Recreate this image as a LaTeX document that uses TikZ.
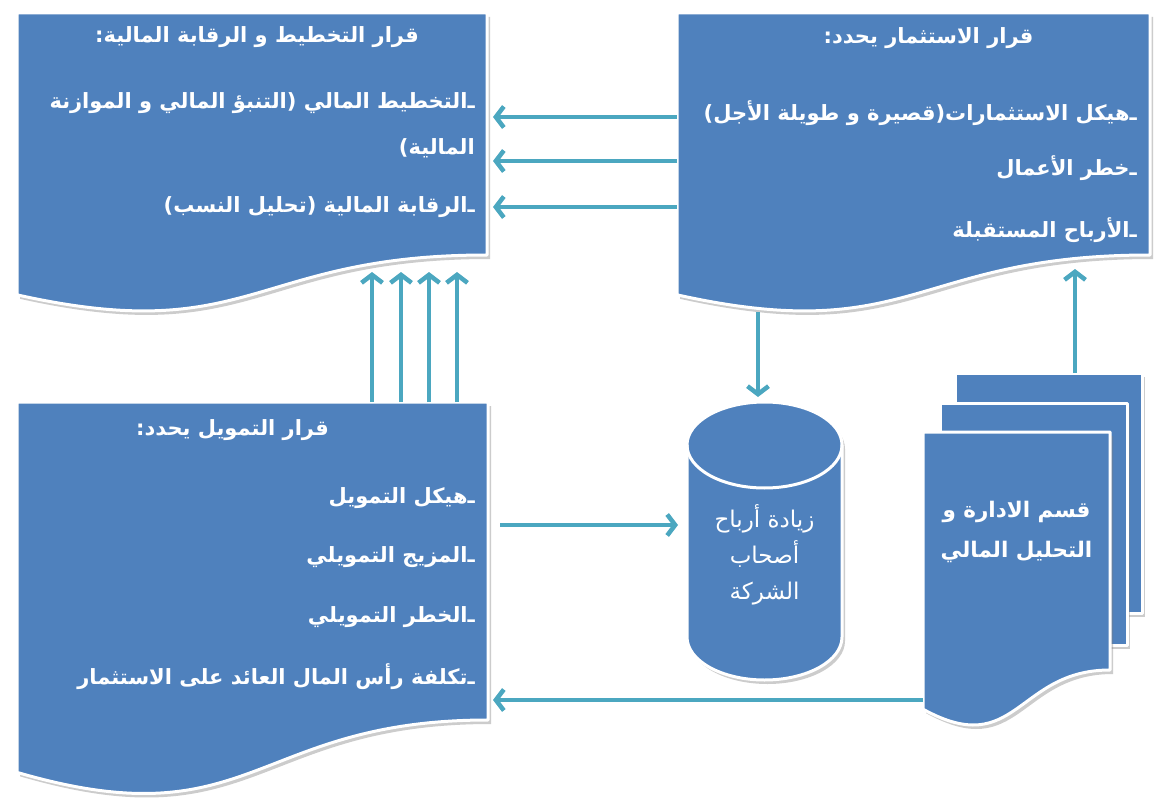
\documentclass[tikz,border=0pt]{standalone}
\usepackage{fontspec}
\newfontfamily\arabicfont[Script=Arabic]{DejaVu Sans}
\TeXXeTstate=1
\usetikzlibrary{calc,arrows.meta}
\definecolor{boxblue}{RGB}{79,129,189}
\definecolor{flowteal}{RGB}{75,167,192}
\newcommand{\dsh}{ـ^^^^200c}
\newcommand{\docshape}[1]{%
\fill[shade] (#1.north west) -- (#1.north east) -- (#1.south east) .. controls (#1.south) and ($(#1.north)!1.381!(#1.south)$) .. ($(#1.north west)!1.1646!(#1.south west)$) -- cycle;
\filldraw[body] (#1.north west) -- (#1.north east) -- (#1.south east) .. controls (#1.south) and ($(#1.north)!1.381!(#1.south)$) .. ($(#1.north west)!1.1646!(#1.south west)$) -- cycle;}
\tikzset{
  frame/.style={anchor=north west, inner sep=0pt, outer sep=0pt},
  body/.style={fill=boxblue, draw=white, line width=3pt, line join=round},
  shade/.style={fill=black!50, opacity=.4, transform canvas={shift={(3pt,-4pt)}}},
  flow/.style={draw=flowteal, line width=4.5pt, -{Straight Barb[length=8pt,width=21pt]}},
  head/.style={text=white, inner sep=0pt, font=\arabicfont\bfseries\fontsize{21}{24}\selectfont, execute at begin node=\beginR, execute at end node=\endR},
  item/.style={head, anchor=east},
}
\begin{document}
\begin{tikzpicture}[x=1pt,y=1pt]
\useasboundingbox[fill=white] (0,0) rectangle (1154,-805);
\node[frame, minimum width=470pt, minimum height=242pt] (plan) at (17,-13) {};
\node[frame, minimum width=473pt, minimum height=242pt] (inv) at (677,-13) {};
\node[frame, minimum width=471pt, minimum height=318pt] (fin) at (17,-402) {};
\node[frame, minimum width=155pt, minimum height=278pt] (gain) at (687,-402) {};
\node[frame, minimum width=187pt, minimum height=240pt] (back) at (955,-373) {};
\node[frame, minimum width=187pt, minimum height=242pt] (mid) at (940,-403) {};
\node[frame, minimum width=187pt, minimum height=238pt] (mgmt) at (923,-432) {};

\docshape{plan}
\docshape{inv}
\docshape{fin}
\fill[shade] (back.north west) rectangle (back.south east);
\filldraw[body] (back.north west) rectangle (back.south east);
\fill[shade] (mid.north west) rectangle (mid.south east);
\filldraw[body] (mid.north west) rectangle (mid.south east);
\docshape{mgmt}
\fill[shade] ([yshift=-43pt]gain.north west) -- ([yshift=43pt]gain.south west) arc[start angle=180, end angle=360, x radius=77.5pt, y radius=43pt] -- ([yshift=-43pt]gain.north east) arc[start angle=0, end angle=180, x radius=77.5pt, y radius=43pt] -- cycle;
\filldraw[body] ([yshift=-43pt]gain.north west) -- ([yshift=43pt]gain.south west) arc[start angle=180, end angle=360, x radius=77.5pt, y radius=43pt] -- ([yshift=-43pt]gain.north east) arc[start angle=0, end angle=180, x radius=77.5pt, y radius=43pt] -- cycle;
\draw[white, line width=3pt] ([yshift=-43pt]gain.north west) arc[start angle=180, end angle=360, x radius=77.5pt, y radius=43pt];

\draw[flow] ([yshift=-104pt]inv.north west) -- ([xshift=6pt,yshift=-104pt]plan.north east);
\draw[flow] ([yshift=-148pt]inv.north west) -- ([xshift=6pt,yshift=-148pt]plan.north east);
\draw[flow] ([yshift=-194pt]inv.north west) -- ([xshift=6pt,yshift=-194pt]plan.north east);
\draw[flow] ([xshift=355pt]fin.north west) -- ([xshift=355pt,yshift=-17pt]plan.south west);
\draw[flow] ([xshift=384pt]fin.north west) -- ([xshift=384pt,yshift=-17pt]plan.south west);
\draw[flow] ([xshift=412pt]fin.north west) -- ([xshift=412pt,yshift=-17pt]plan.south west);
\draw[flow] ([xshift=440pt]fin.north west) -- ([xshift=440pt,yshift=-17pt]plan.south west);
\draw[flow] ([xshift=-155.5pt,yshift=-57pt]inv.south) -- ([xshift=-6.5pt,yshift=5pt]gain.north);
\draw[flow] ([xshift=12pt,yshift=36pt]fin.east) -- ([xshift=-9pt,yshift=16pt]gain.west);
\draw[flow] ([yshift=-149pt]mgmt.west) -- ([xshift=5pt,yshift=-139pt]fin.east);
\draw[flow] ([xshift=26.5pt]back.north) -- ([xshift=161.5pt,yshift=-14pt]inv.south);

\node[head] at ([xshift=5pt,yshift=-24pt]plan.north) {قرار التخطيط و الرقابة المالية:};
\node[item] at ([xshift=-12pt,yshift=-90pt]plan.north east) {\dsh التخطيط المالي (التنبؤ المالي و الموازنة};
\node[item] at ([xshift=-12pt,yshift=-135pt]plan.north east) {المالية)};
\node[item] at ([xshift=-12pt,yshift=-194pt]plan.north east) {\dsh الرقابة المالية (تحليل النسب)};

\node[head] at ([xshift=15pt,yshift=-25pt]inv.north) {قرار الاستثمار يحدد:};
\node[item] at ([xshift=-13pt,yshift=-100pt]inv.north east) {\dsh هيكل الاستثمارات(قصيرة و طويلة الأجل)};
\node[item] at ([xshift=-13pt,yshift=-155pt]inv.north east) {\dsh خطر الأعمال};
\node[item] at ([xshift=-13pt,yshift=-217pt]inv.north east) {\dsh الأرباح المستقبلة};

\node[head] at ([xshift=-20pt,yshift=-28pt]fin.north) {قرار التمويل يحدد:};
\node[item] at ([xshift=-13pt,yshift=-96pt]fin.north east) {\dsh هيكل التمويل};
\node[item] at ([xshift=-13pt,yshift=-155pt]fin.north east) {\dsh المزيج التمويلي};
\node[item] at ([xshift=-13pt,yshift=-215pt]fin.north east) {\dsh الخطر التمويلي};
\node[item] at ([xshift=-13pt,yshift=-275pt]fin.north east) {\dsh تكلفة رأس المال العائد على الاستثمار};

\node[text=white, align=center, font=\arabicfont\fontsize{23}{36}\selectfont] at ([yshift=-14pt]gain.center) {\beginR زيادة أرباح\endR\\\beginR أصحاب\endR\\\beginR الشركة\endR};
\node[text=white, align=center, font=\arabicfont\bfseries\fontsize{21.5}{40}\selectfont] at ([yshift=19pt]mgmt.center) {\beginR قسم الادارة و\endR\\\beginR التحليل المالي\endR};
\end{tikzpicture}
\end{document}
